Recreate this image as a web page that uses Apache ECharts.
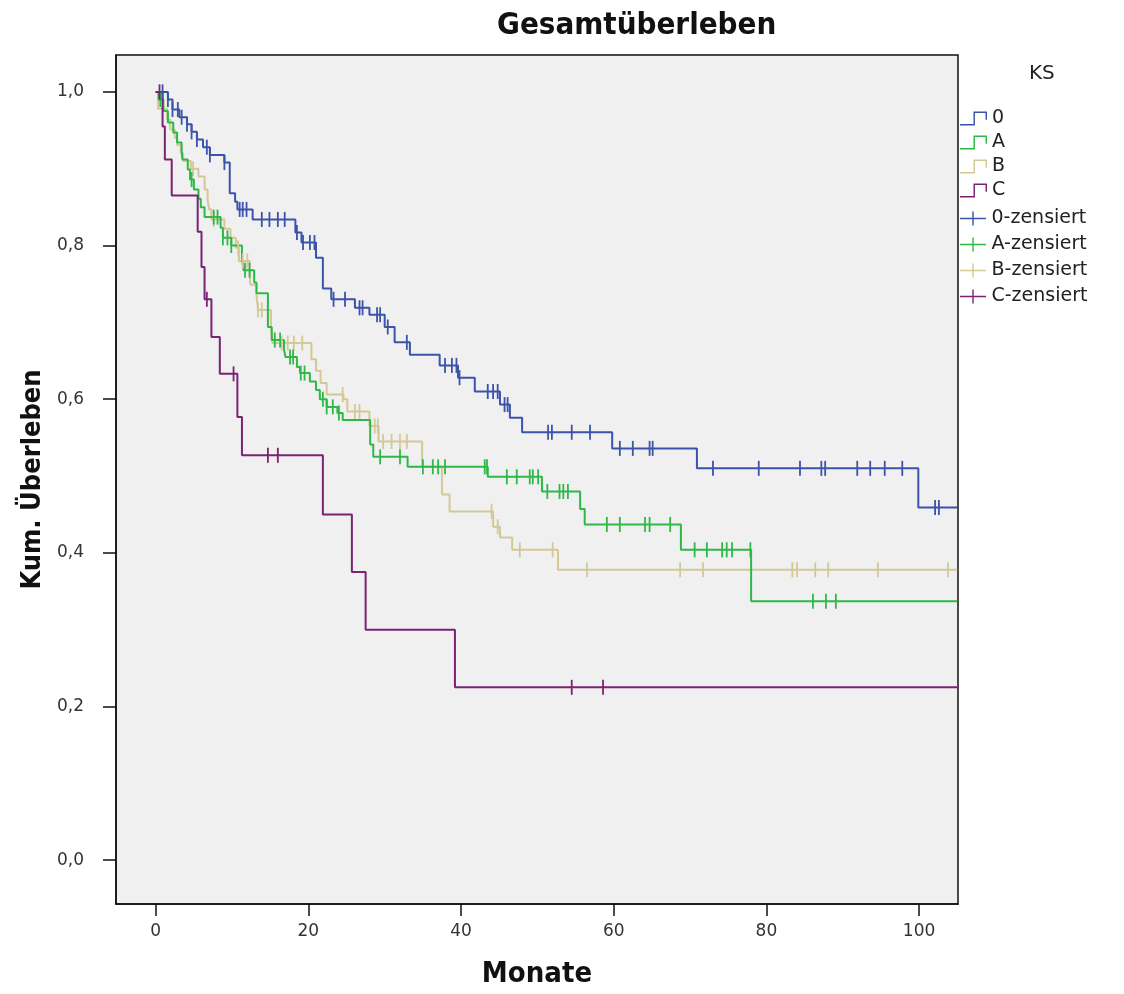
<!DOCTYPE html>
<html>
<head>
<meta charset="utf-8">
<script src="https://cdn.jsdelivr.net/npm/echarts@6/dist/echarts.min.js"></script>
<style>
html,body{margin:0;padding:0;background:#fff;}
#chart{width:1124px;height:994px;}
</style>
</head>
<body>
<div id="chart"></div>
<script>
// ---- Data ----
const groupNames = ['0', 'A', 'B', 'C'];
const censorNames = ['0-zensiert', 'A-zensiert', 'B-zensiert', 'C-zensiert'];
const xTicks = [0, 20, 40, 60, 80, 100];
const yTicks = [0.0, 0.2, 0.4, 0.6, 0.8, 1.0];
const followUpEnd = 105;

// KS 0
const t0 = [0, 1.6, 2.2, 3.1, 4.1, 4.7, 5.4, 6.2, 7.1, 9.0, 9.7, 10.4, 10.7, 12.7, 18.3, 19.1, 21.0, 21.9, 23.0, 26.1, 28.0, 30.0, 31.3, 33.3, 37.2, 39.6, 41.8, 45.1, 46.4, 48.0, 59.8, 70.9, 99.9];
const s0 = [1.0, 0.99, 0.977, 0.967, 0.958, 0.948, 0.938, 0.928, 0.918, 0.908, 0.868, 0.857, 0.847, 0.834, 0.817, 0.804, 0.784, 0.744, 0.73, 0.719, 0.71, 0.694, 0.674, 0.658, 0.644, 0.628, 0.61, 0.593, 0.576, 0.557, 0.536, 0.51, 0.459];
const c0t = [0.9, 1.6, 2.2, 2.9, 3.4, 4.1, 4.7, 5.4, 6.7, 7.1, 9.0, 11.0, 11.4, 11.9, 13.9, 14.9, 16.0, 16.9, 18.5, 19.3, 20.2, 20.8, 23.3, 24.8, 26.7, 27.1, 29.0, 29.4, 30.4, 32.9, 37.9, 38.8, 39.4, 39.8, 43.5, 44.2, 44.8, 45.7, 46.1, 51.4, 51.9, 54.5, 56.9, 60.8, 62.5, 64.7, 65.1, 73.0, 79.0, 84.4, 87.2, 87.7, 91.9, 93.6, 95.5, 97.8, 102.1, 102.6];
const c0s = [1.0, 0.99, 0.977, 0.977, 0.967, 0.958, 0.948, 0.938, 0.928, 0.918, 0.908, 0.847, 0.847, 0.847, 0.834, 0.834, 0.834, 0.834, 0.817, 0.804, 0.804, 0.804, 0.73, 0.73, 0.719, 0.719, 0.71, 0.71, 0.694, 0.674, 0.644, 0.644, 0.644, 0.628, 0.61, 0.61, 0.61, 0.593, 0.593, 0.557, 0.557, 0.557, 0.557, 0.536, 0.536, 0.536, 0.536, 0.51, 0.51, 0.51, 0.51, 0.51, 0.51, 0.51, 0.51, 0.51, 0.459, 0.459];

// KS A
const tA = [0, 0.4, 1.0, 1.6, 2.3, 2.8, 3.4, 3.5, 4.2, 4.5, 5.0, 5.6, 5.9, 6.4, 8.5, 8.8, 9.9, 11.3, 11.5, 12.9, 13.2, 14.7, 15.2, 16.8, 17.0, 18.5, 18.9, 20.2, 21.0, 21.5, 22.4, 23.8, 24.5, 28.1, 28.5, 33.0, 43.5, 50.6, 55.6, 56.2, 68.8, 78.0];
const sA = [1.0, 0.99, 0.975, 0.96, 0.947, 0.934, 0.923, 0.912, 0.899, 0.886, 0.873, 0.861, 0.85, 0.837, 0.823, 0.81, 0.80, 0.784, 0.768, 0.752, 0.738, 0.694, 0.677, 0.665, 0.655, 0.642, 0.634, 0.623, 0.612, 0.60, 0.59, 0.582, 0.573, 0.541, 0.525, 0.512, 0.499, 0.48, 0.457, 0.437, 0.404, 0.337];
const cAt = [0.6, 4.7, 7.6, 8.1, 8.8, 9.4, 9.9, 11.7, 12.3, 15.6, 16.3, 17.6, 18.0, 19.0, 19.5, 21.9, 22.4, 23.2, 24.0, 29.4, 32.0, 35.0, 36.3, 37.0, 37.9, 43.1, 43.4, 46.0, 47.3, 49.0, 49.4, 50.1, 51.3, 52.9, 53.4, 54.0, 59.1, 60.8, 64.1, 64.7, 67.4, 70.6, 72.2, 74.2, 74.8, 75.5, 77.9, 86.1, 87.8, 89.1];
const cAs = [0.99, 0.886, 0.837, 0.837, 0.81, 0.81, 0.80, 0.768, 0.768, 0.677, 0.677, 0.655, 0.655, 0.634, 0.634, 0.60, 0.59, 0.59, 0.582, 0.525, 0.525, 0.512, 0.512, 0.512, 0.512, 0.512, 0.512, 0.499, 0.499, 0.499, 0.499, 0.499, 0.48, 0.48, 0.48, 0.48, 0.437, 0.437, 0.437, 0.437, 0.437, 0.404, 0.404, 0.404, 0.404, 0.404, 0.404, 0.337, 0.337, 0.337];

// KS B
const tB = [0, 0.3, 1.5, 1.9, 2.5, 2.8, 3.3, 3.6, 4.6, 5.6, 6.4, 6.8, 7.0, 7.3, 9.0, 9.8, 10.5, 10.9, 12.3, 12.4, 13.2, 13.4, 15.1, 15.3, 20.4, 21.0, 21.6, 22.4, 24.6, 25.1, 28.0, 29.2, 34.9, 37.5, 38.5, 44.2, 45.1, 46.7, 52.7];
const sB = [1.0, 0.978, 0.964, 0.951, 0.94, 0.931, 0.92, 0.91, 0.90, 0.89, 0.873, 0.86, 0.847, 0.834, 0.822, 0.81, 0.797, 0.78, 0.764, 0.749, 0.736, 0.716, 0.694, 0.673, 0.652, 0.637, 0.621, 0.606, 0.60, 0.584, 0.565, 0.545, 0.512, 0.476, 0.454, 0.434, 0.42, 0.404, 0.378];
const cBt = [4.9, 7.6, 10.8, 11.4, 12.0, 13.4, 13.9, 16.5, 17.3, 18.1, 19.2, 24.5, 26.1, 26.7, 28.7, 29.1, 29.8, 30.9, 32.0, 32.9, 44.0, 44.8, 47.7, 52.0, 56.5, 68.7, 71.7, 83.4, 84.0, 86.4, 88.1, 94.6, 103.8];
const cBs = [0.90, 0.834, 0.797, 0.78, 0.78, 0.716, 0.716, 0.673, 0.673, 0.673, 0.673, 0.606, 0.584, 0.584, 0.565, 0.565, 0.545, 0.545, 0.545, 0.545, 0.454, 0.434, 0.404, 0.404, 0.378, 0.378, 0.378, 0.378, 0.378, 0.378, 0.378, 0.378, 0.378];

// KS C
const tC = [0, 0.9, 1.2, 2.1, 5.5, 6.0, 6.4, 7.3, 8.4, 10.7, 11.3, 21.9, 25.7, 27.5, 39.2];
const sC = [1.0, 0.955, 0.912, 0.865, 0.818, 0.772, 0.73, 0.681, 0.633, 0.577, 0.527, 0.45, 0.375, 0.30, 0.225];
const cCt = [0.5, 6.7, 10.2, 14.7, 16.0, 54.5, 58.6];
const cCs = [1.0, 0.73, 0.633, 0.527, 0.527, 0.225, 0.225];

const colors = ['#3B53AA', '#2EB848', '#D3C896', '#7C2274'];
// ---- Build ----
const steps = [[t0, s0], [tA, sA], [tB, sB], [tC, sC]];
const cens = [[c0t, c0s], [cAt, cAs], [cBt, cBs], [cCt, cCs]];
const zOrder = [4, 3, 2, 5];

function stepData(t, s) {
  const d = t.map((v, i) => [v, s[i]]);
  d.push([followUpEnd, s[s.length - 1]]);
  return d;
}

const series = [];
groupNames.forEach((n, i) => {
  series.push({
    name: n, type: 'line', step: 'end', showSymbol: false, symbol: 'none',
    data: stepData(steps[i][0], steps[i][1]),
    lineStyle: { color: colors[i], width: 2 },
    itemStyle: { color: colors[i] },
    z: zOrder[i], silent: true
  });
});
censorNames.forEach((n, i) => {
  series.push({
    name: n, type: 'scatter', symbol: 'rect', symbolSize: [1.8, 15],
    data: cens[i][0].map((v, k) => [v, cens[i][1][k]]),
    itemStyle: { color: colors[i], opacity: 1 },
    z: zOrder[i] + 5, silent: true
  });
});

const narrowBold = "'DejaVu Sans Condensed','Liberation Sans Narrow','Arial Narrow',sans-serif";
const stepIcon = 'path://M0,12 L13,12 L13,0 L26,0 L26,8 L24.6,8 L24.6,1.4 L14.4,1.4 L14.4,13.4 L0,13.4 Z';
const plusIcon = 'path://M0,6.3 L26,6.3 L26,7.7 L0,7.7 Z M12.3,0 L13.7,0 L13.7,14 L12.3,14 Z';
const legendText = { fontFamily: 'DejaVu Sans', fontSize: 19, color: '#222' };

const option = {
  animation: false,
  backgroundColor: '#ffffff',
  title: {
    text: 'Gesamtüberleben', left: 492, top: 5,
    textStyle: { fontFamily: narrowBold, fontWeight: 'bold', fontSize: 31, color: '#111' }
  },
  graphic: [{
    type: 'text', left: 1029, top: 64,
    style: { text: 'KS', fontFamily: 'DejaVu Sans', fontSize: 20, fill: '#222' }
  }],
  legend: [{
    orient: 'vertical', left: 955, top: 104, itemWidth: 27, itemHeight: 14, itemGap: 5,
    data: groupNames.map((n, i) => ({ name: n, icon: stepIcon, itemStyle: { color: colors[i] } })),
    textStyle: legendText, selectedMode: false
  }, {
    orient: 'vertical', left: 955, top: 204, itemWidth: 27, itemHeight: 14, itemGap: 7,
    data: censorNames.map((n, i) => ({ name: n, icon: plusIcon, itemStyle: { color: colors[i] } })),
    textStyle: legendText, selectedMode: false
  }],
  grid: {
    left: 116, right: 166, top: 55, bottom: 89, show: true,
    backgroundColor: '#F0F0F0', borderColor: '#111', borderWidth: 1.5
  },
  xAxis: {
    type: 'value', min: -5.2, max: 105.1,
    name: 'Monate', nameLocation: 'middle', nameGap: 56,
    nameTextStyle: { fontFamily: narrowBold, fontWeight: 'bold', fontSize: 29, color: '#111' },
    axisLine: { show: true, onZero: false, lineStyle: { color: '#111', width: 1.5 } },
    axisTick: { show: true, length: 12, customValues: xTicks, lineStyle: { color: '#111', width: 1.5 } },
    axisLabel: { customValues: xTicks, margin: 19, fontFamily: 'DejaVu Sans', fontSize: 17, color: '#333' },
    splitLine: { show: false }
  },
  yAxis: {
    type: 'value', min: -0.057, max: 1.048,
    name: 'Kum. Überleben', nameLocation: 'middle', nameGap: 68, nameRotate: 90,
    nameTextStyle: { fontFamily: narrowBold, fontWeight: 'bold', fontSize: 27, color: '#111' },
    axisLine: { show: true, onZero: false, lineStyle: { color: '#111', width: 1.5 } },
    axisTick: { show: true, length: 13, customValues: yTicks, lineStyle: { color: '#111', width: 1.5 } },
    axisLabel: { customValues: yTicks, margin: 32, fontFamily: 'DejaVu Sans', fontSize: 17, color: '#333',
      formatter: v => v.toFixed(1).replace('.', ',') },
    splitLine: { show: false }
  },
  series: series
};

const chart = echarts.init(document.getElementById('chart'), null, { renderer: 'canvas' });
chart.setOption(option);
</script>
</body>
</html>
